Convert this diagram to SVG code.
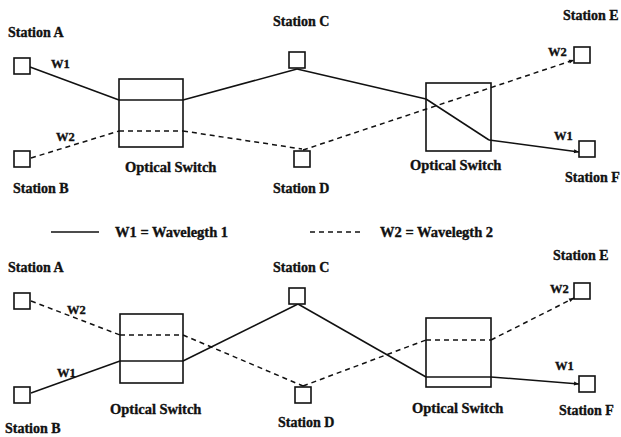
<svg xmlns="http://www.w3.org/2000/svg" width="621" height="437" viewBox="0 0 621 437">
<defs>
<style>
text{font-family:"Liberation Serif","Times New Roman",serif;font-weight:bold;fill:#111;stroke:#111;stroke-width:0.35}
.st{font-size:14px}
.sw{font-size:14.5px}
.w{font-size:12.5px}
.lg{font-size:14.5px}
.box{fill:#fff;stroke:#111;stroke-width:1.6}
.sol{fill:none;stroke:#111;stroke-width:1.5}
.dsh{fill:none;stroke:#111;stroke-width:1.5;stroke-dasharray:5,4}
</style>
<marker id="ah" viewBox="0 0 10 10" refX="10" refY="5" markerWidth="7" markerHeight="5" orient="auto" markerUnits="userSpaceOnUse">
<path d="M0,1 L10,5 L0,9 Z" fill="#111"/>
</marker>
</defs>
<rect width="621" height="437" fill="#fff"/>

<g id="connectors">
<!-- top -->
<line class="sol" x1="30" y1="67" x2="119" y2="100"/>
<line class="dsh" x1="31" y1="158" x2="119" y2="131"/>
<line class="sol" x1="183" y1="100" x2="297" y2="69"/>
<line class="dsh" x1="183" y1="131" x2="302" y2="149"/>
<line class="sol" x1="297" y1="69" x2="426" y2="99"/>
<line class="sol" x1="426" y1="99" x2="489" y2="140"/>
<line class="sol" x1="489" y1="140" x2="579" y2="152" marker-end="url(#ah)"/>
<line class="dsh" x1="303" y1="150" x2="574" y2="60" marker-end="url(#ah)"/>
<!-- bottom -->
<line class="dsh" x1="31" y1="301" x2="120" y2="335"/>
<line class="sol" x1="31" y1="393" x2="120" y2="361"/>
<line class="sol" x1="183" y1="361" x2="298" y2="304"/>
<line class="dsh" x1="183" y1="335" x2="303" y2="386"/>
<line class="sol" x1="298" y1="304" x2="426" y2="377"/>
<line class="dsh" x1="303" y1="386" x2="426" y2="340"/>
<line class="dsh" x1="491" y1="340" x2="574" y2="298" marker-end="url(#ah)"/>
<line class="sol" x1="491" y1="377" x2="579" y2="384" marker-end="url(#ah)"/>
<!-- legend -->
<line class="sol" x1="51" y1="232" x2="99" y2="232"/>
<line class="dsh" x1="310" y1="232" x2="363" y2="232"/>
</g>

<g id="legend">
<text class="lg" x="115" y="237">W1 = Wavelegth 1</text>
<text class="lg" x="380" y="237">W2 = Wavelegth 2</text>
</g>

<!-- top diagram -->
<g id="top-stationA"><rect class="box" x="14" y="58" width="16" height="16"/><text class="st" x="8" y="37">Station A</text></g>
<g id="top-stationB"><rect class="box" x="14" y="151" width="16" height="16"/><text class="st" x="13" y="193">Station B</text></g>
<g id="top-stationC"><rect class="box" x="289" y="52" width="16" height="16"/><text class="st" x="273" y="26">Station C</text></g>
<g id="top-stationD"><rect class="box" x="294" y="151" width="16" height="16"/><text class="st" x="273" y="193">Station D</text></g>
<g id="top-stationE"><rect class="box" x="574" y="47" width="16" height="16"/><text class="st" x="563" y="20">Station E</text></g>
<g id="top-stationF"><rect class="box" x="579" y="141" width="16" height="16"/><text class="st" x="565" y="182">Station F</text></g>
<g id="top-switch1">
<rect x="119" y="79" width="64" height="68" fill="none" stroke="#111" stroke-width="1.6"/>
<line class="sol" x1="119" y1="100" x2="183" y2="100"/>
<line class="dsh" x1="119" y1="131" x2="183" y2="131"/>
<text class="sw" x="125" y="172">Optical Switch</text>
</g>
<g id="top-switch2">
<rect x="426" y="83" width="65" height="68" fill="none" stroke="#111" stroke-width="1.6"/>
<text class="sw" x="410" y="170">Optical Switch</text>
</g>
<g id="top-labels">
<text class="w" x="51" y="68">W1</text>
<text class="w" x="56" y="141">W2</text>
<text class="w" x="548" y="56">W2</text>
<text class="w" x="554" y="140">W1</text>
</g>

<!-- bottom diagram -->
<g id="bot-stationA"><rect class="box" x="14" y="293" width="16" height="16"/><text class="st" x="8" y="272">Station A</text></g>
<g id="bot-stationB"><rect class="box" x="14" y="387" width="16" height="16"/><text class="st" x="5" y="433">Station B</text></g>
<g id="bot-stationC"><rect class="box" x="289" y="288" width="16" height="16"/><text class="st" x="273" y="272">Station C</text></g>
<g id="bot-stationD"><rect class="box" x="295" y="387" width="16" height="16"/><text class="st" x="278" y="427">Station D</text></g>
<g id="bot-stationE"><rect class="box" x="574" y="283" width="16" height="16"/><text class="st" x="553" y="260">Station E</text></g>
<g id="bot-stationF"><rect class="box" x="579" y="376" width="16" height="16"/><text class="st" x="559" y="415">Station F</text></g>
<g id="bot-switch1">
<rect x="120" y="314" width="63" height="69" fill="none" stroke="#111" stroke-width="1.6"/>
<line class="dsh" x1="120" y1="335" x2="183" y2="335"/>
<line class="sol" x1="120" y1="361" x2="183" y2="361"/>
<text class="sw" x="110" y="414">Optical Switch</text>
</g>
<g id="bot-switch2">
<rect x="426" y="318" width="65" height="69" fill="none" stroke="#111" stroke-width="1.6"/>
<line class="dsh" x1="426" y1="340" x2="491" y2="340"/>
<line class="sol" x1="426" y1="377" x2="491" y2="377"/>
<text class="sw" x="412" y="413">Optical Switch</text>
</g>
<g id="bot-labels">
<text class="w" x="67" y="314">W2</text>
<text class="w" x="57" y="377">W1</text>
<text class="w" x="550" y="293">W2</text>
<text class="w" x="555" y="370">W1</text>
</g>
</svg>
